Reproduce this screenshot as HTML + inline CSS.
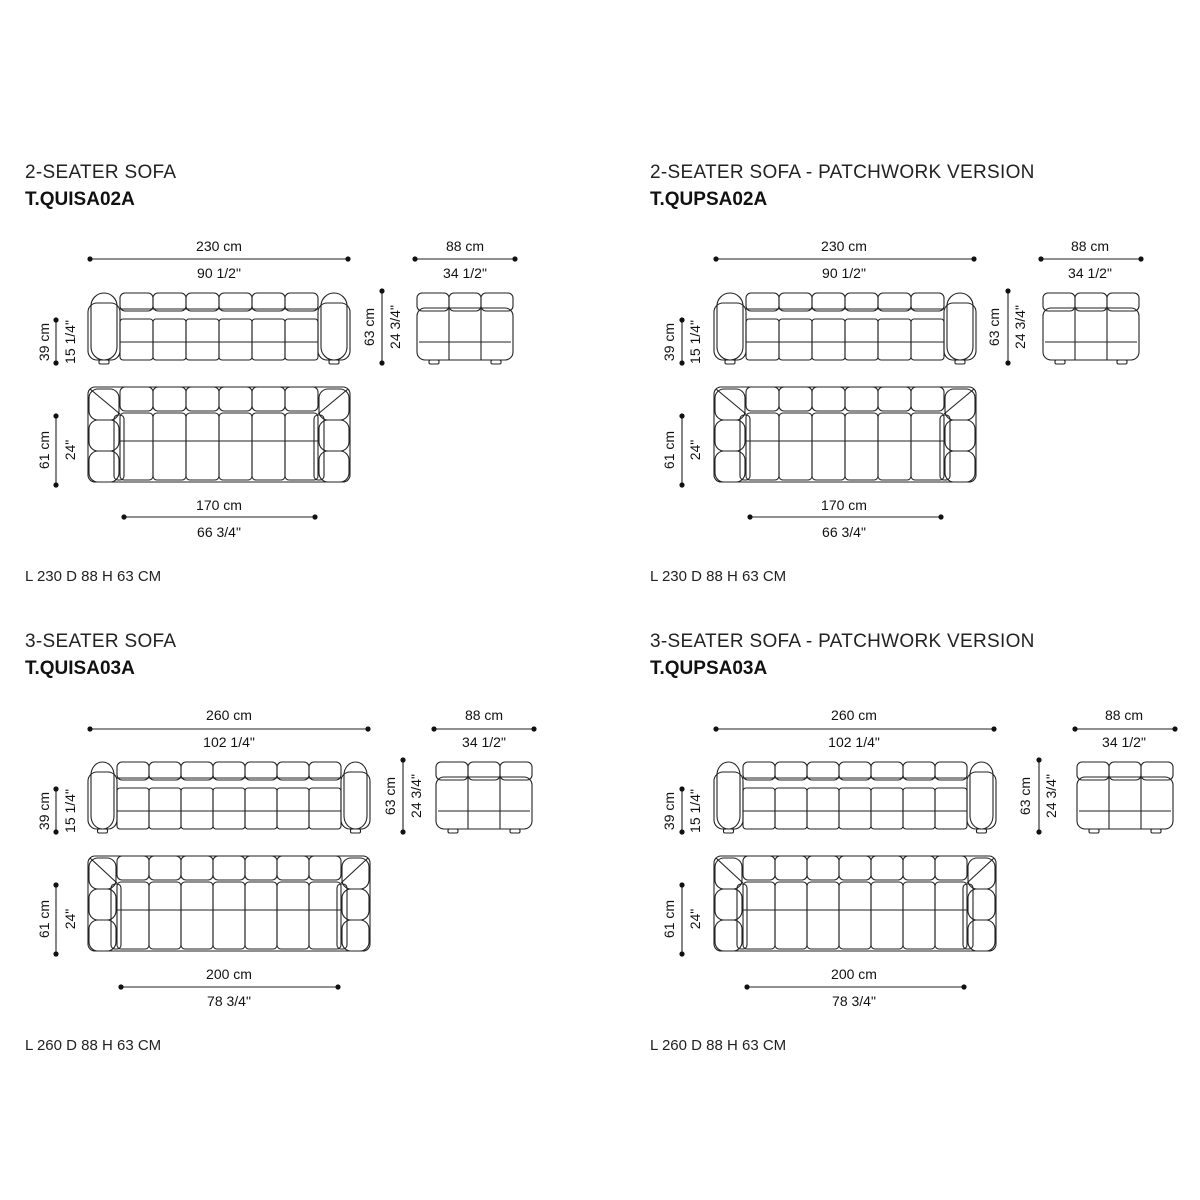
<!DOCTYPE html>
<html><head><meta charset="utf-8"><style>
html,body{margin:0;padding:0;background:#fff;width:1200px;height:1200px;overflow:hidden}
svg{display:block}
.t{font-family:"Liberation Sans",sans-serif;font-size:19px;font-weight:300;fill:#222;letter-spacing:0.3px}
.c{font-family:"Liberation Sans",sans-serif;font-size:19px;font-weight:bold;fill:#111}
.f{font-family:"Liberation Sans",sans-serif;font-size:15px;fill:#222}
.d{font-family:"Liberation Sans",sans-serif;font-size:14px;fill:#111}
</style></head><body>
<svg id="s" width="1200" height="1200" xmlns="http://www.w3.org/2000/svg">
<g id="txt">
<text class="t" x="25" y="178">2-SEATER SOFA</text>
<text class="c" x="25" y="205">T.QUISA02A</text>
<text class="f" x="25" y="581">L 230 D 88 H 63 CM</text>
<text class="t" x="650" y="178">2-SEATER SOFA - PATCHWORK VERSION</text>
<text class="c" x="650" y="205">T.QUPSA02A</text>
<text class="f" x="650" y="581">L 230 D 88 H 63 CM</text>
<text class="t" x="25" y="647">3-SEATER SOFA</text>
<text class="c" x="25" y="674">T.QUISA03A</text>
<text class="f" x="25" y="1050">L 260 D 88 H 63 CM</text>
<text class="t" x="650" y="647">3-SEATER SOFA - PATCHWORK VERSION</text>
<text class="c" x="650" y="674">T.QUPSA03A</text>
<text class="f" x="650" y="1050">L 260 D 88 H 63 CM</text>

<g>
<text class="d" x="219" y="251" text-anchor="middle">230 cm</text>
<text class="d" x="219" y="278" text-anchor="middle">90 1/2"</text>
<text class="d" x="465" y="251" text-anchor="middle">88 cm</text>
<text class="d" x="465" y="278" text-anchor="middle">34 1/2"</text>
<text class="d" x="219" y="510" text-anchor="middle">170 cm</text>
<text class="d" x="219" y="537" text-anchor="middle">66 3/4"</text>
<text class="d" transform="translate(49,342) rotate(-90)" text-anchor="middle">39 cm</text>
<text class="d" transform="translate(75,342) rotate(-90)" text-anchor="middle">15 1/4"</text>
<text class="d" transform="translate(374,327) rotate(-90)" text-anchor="middle">63 cm</text>
<text class="d" transform="translate(400,327) rotate(-90)" text-anchor="middle">24 3/4"</text>
<text class="d" transform="translate(49,450) rotate(-90)" text-anchor="middle">61 cm</text>
<text class="d" transform="translate(75,450) rotate(-90)" text-anchor="middle">24"</text>
</g>
<g transform="translate(625,0)">
<text class="d" x="219" y="251" text-anchor="middle">230 cm</text>
<text class="d" x="219" y="278" text-anchor="middle">90 1/2"</text>
<text class="d" x="465" y="251" text-anchor="middle">88 cm</text>
<text class="d" x="465" y="278" text-anchor="middle">34 1/2"</text>
<text class="d" x="219" y="510" text-anchor="middle">170 cm</text>
<text class="d" x="219" y="537" text-anchor="middle">66 3/4"</text>
<text class="d" transform="translate(49,342) rotate(-90)" text-anchor="middle">39 cm</text>
<text class="d" transform="translate(75,342) rotate(-90)" text-anchor="middle">15 1/4"</text>
<text class="d" transform="translate(374,327) rotate(-90)" text-anchor="middle">63 cm</text>
<text class="d" transform="translate(400,327) rotate(-90)" text-anchor="middle">24 3/4"</text>
<text class="d" transform="translate(49,450) rotate(-90)" text-anchor="middle">61 cm</text>
<text class="d" transform="translate(75,450) rotate(-90)" text-anchor="middle">24"</text>
</g>
<g>
<text class="d" x="229" y="720" text-anchor="middle">260 cm</text>
<text class="d" x="229" y="747" text-anchor="middle">102 1/4"</text>
<text class="d" x="484" y="720" text-anchor="middle">88 cm</text>
<text class="d" x="484" y="747" text-anchor="middle">34 1/2"</text>
<text class="d" x="229" y="979" text-anchor="middle">200 cm</text>
<text class="d" x="229" y="1006" text-anchor="middle">78 3/4"</text>
<text class="d" transform="translate(49,811) rotate(-90)" text-anchor="middle">39 cm</text>
<text class="d" transform="translate(75,811) rotate(-90)" text-anchor="middle">15 1/4"</text>
<text class="d" transform="translate(395,796) rotate(-90)" text-anchor="middle">63 cm</text>
<text class="d" transform="translate(421,796) rotate(-90)" text-anchor="middle">24 3/4"</text>
<text class="d" transform="translate(49,919) rotate(-90)" text-anchor="middle">61 cm</text>
<text class="d" transform="translate(75,919) rotate(-90)" text-anchor="middle">24"</text>
</g>
<g transform="translate(625,0)">
<text class="d" x="229" y="720" text-anchor="middle">260 cm</text>
<text class="d" x="229" y="747" text-anchor="middle">102 1/4"</text>
<text class="d" x="499" y="720" text-anchor="middle">88 cm</text>
<text class="d" x="499" y="747" text-anchor="middle">34 1/2"</text>
<text class="d" x="229" y="979" text-anchor="middle">200 cm</text>
<text class="d" x="229" y="1006" text-anchor="middle">78 3/4"</text>
<text class="d" transform="translate(49,811) rotate(-90)" text-anchor="middle">39 cm</text>
<text class="d" transform="translate(75,811) rotate(-90)" text-anchor="middle">15 1/4"</text>
<text class="d" transform="translate(405,796) rotate(-90)" text-anchor="middle">63 cm</text>
<text class="d" transform="translate(431,796) rotate(-90)" text-anchor="middle">24 3/4"</text>
<text class="d" transform="translate(49,919) rotate(-90)" text-anchor="middle">61 cm</text>
<text class="d" transform="translate(75,919) rotate(-90)" text-anchor="middle">24"</text>
</g>
</g>
<g id="shapes" fill="none" stroke="#222" stroke-width="1.1"></g>
</svg>
<script>
var NS="http://www.w3.org/2000/svg",G=document.getElementById("shapes");
function el(n,a){var e=document.createElementNS(NS,n);for(var k in a)e.setAttribute(k,a[k]);G.appendChild(e);return e}
function rr(x,y,w,h,r){el("rect",{x:x,y:y,width:w,height:h,rx:r,ry:r})}
function ln(x1,y1,x2,y2){el("line",{x1:x1,y1:y1,x2:x2,y2:y2})}
function dot(x,y){el("circle",{cx:x,cy:y,r:2.6,fill:"#111",stroke:"none"})}
function hd(x1,x2,y){ln(x1,y,x2,y);dot(x1,y);dot(x2,y)}
function vd(x,y1,y2){ln(x,y1,x,y2);dot(x,y1);dot(x,y2)}
function sofa(dx,L){
 var x0=L.x0+dx,x1=L.x1+dx,a=L.arm,n=L.n,y0=L.fy,y1=L.fy+69;
 var cw=(x1-x0-2*a)/n;
 for(var i=0;i<n;i++){var cx=x0+a+i*cw;
  rr(cx,y0,cw,18,5);rr(cx,y0+26,cw,y1-y0-28,3);ln(cx,y0+49,cx+cw,y0+49);}
 ln(x0+a,y0+16,x1-a,y0+16);
 [x0,x1-a].forEach(function(ax){rr(ax,y0+10,a,y1-y0-12,9);rr(ax+3,y0,a-6,y1-y0-2,13);
   rr(ax+a/2-5,y1-2,10,4,1.5);});
 var sx=L.sx+dx,sw=96,c3=sw/3;
 for(i=0;i<3;i++){rr(sx+i*c3,y0,c3,18,5);}
 rr(sx,y0+15,sw,y1-y0-17,8);ln(sx+2,y0+49,sx+sw-2,y0+49);
 ln(sx+c3,y0+15,sx+c3,y1-2);ln(sx+2*c3,y0+15,sx+2*c3,y1-2);
 rr(sx+12,y1-2,10,4,1.5);rr(sx+sw-22,y1-2,10,4,1.5);
 var ty=L.ty,th=95;
 for(i=0;i<n;i++){cx=x0+a+i*cw;rr(cx,ty,cw,24,5);rr(cx,ty+26,cw,th-28,4);ln(cx,ty+54,cx+cw,ty+54);}
 rr(x0,ty,x1-x0,th,7);
 [x0,x1-a].forEach(function(ax){for(var k=0;k<3;k++)rr(ax+1,ty+2+k*31,a-2,31,9);});
 rr(x0+a-6,ty+28,10,th-30,4);rr(x1-a-4,ty+28,10,th-30,4);
 ln(x0+2,ty+2,x0+a,ty+27);ln(x1-2,ty+2,x1-a,ty+27);
 hd(x0+2,x1-2,L.dy);hd(sx-2,sx+sw+2,L.dy);
 hd(L.bx0+dx,L.bx1+dx,L.by);
 vd(56+dx,L.fy+27,L.fy+70);vd(L.vx+dx,L.fy-2,L.fy+70);vd(56+dx,L.ty+29,L.ty+98);
}
var A={x0:88,x1:350,arm:32,n:6,fy:293,sx:417,ty:387,dy:259,bx0:124,bx1:315,by:517,vx:382};
var B={x0:88,x1:370,arm:29,n:7,fy:762,sx:436,ty:856,dy:729,bx0:121,bx1:338,by:987,vx:403};
sofa(0,A);sofa(626,A);sofa(0,B);
var B2=Object.assign({},B,{sx:451,vx:413});sofa(626,B2);
</script>
</body></html>
